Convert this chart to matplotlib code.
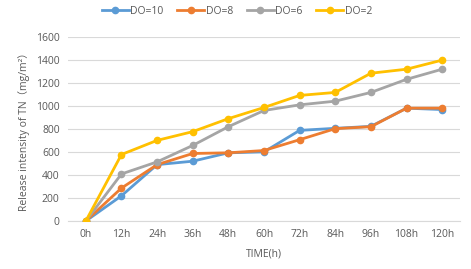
import matplotlib
matplotlib.use("Agg")
import matplotlib.pyplot as plt

categories = ["0h", "12h", "24h", "36h", "48h", "60h", "72h", "84h", "96h", "108h", "120h"]
do10 = [0, 219, 490, 520, 593, 601, 788, 806, 823, 981, 969]
do8 = [0, 286, 490, 587, 593, 613, 707, 803, 820, 981, 981]
do6 = [0, 409, 514, 657, 820, 961, 1010, 1042, 1118, 1232, 1320]
do2 = [0, 578, 701, 777, 890, 987, 1092, 1118, 1285, 1320, 1399]
series_names = ["DO=10", "DO=8", "DO=6", "DO=2"]
yticks = [0, 200, 400, 600, 800, 1000, 1200, 1400, 1600]

colors = ["#5B9BD5", "#ED7D31", "#A5A5A5", "#FFC000"]
txt = "#595959"
plt.rcParams['font.family'] = ['Open Sans', 'DejaVu Sans']

fig = plt.figure(figsize=(4.71, 2.69), dpi=100)
ax = fig.add_axes([68/471, 48/269, 392/471, 184/269])
x = list(range(len(categories)))
for vals, name, c in zip([do10, do8, do6, do2], series_names, colors):
    ax.plot(x, vals, color=c, lw=2.0, marker='o', ms=4.5, label=name,
            solid_joinstyle='round', zorder=3)

ax.set_xlim(-0.5, len(categories) - 0.5)
ax.set_ylim(0, 1600)
ax.set_yticks(yticks)
ax.set_xticks(x)
ax.set_xticklabels(categories)
ax.grid(axis='y', color='#D9D9D9', lw=0.8, zorder=0)
ax.set_axisbelow(True)
for s in ['top', 'right', 'left']:
    ax.spines[s].set_visible(False)
ax.spines['bottom'].set_color('#D9D9D9')
ax.spines['bottom'].set_linewidth(0.8)
ax.tick_params(length=0, labelsize=7.5, colors=txt, pad=6)
ax.set_xlabel("TIME(h)", fontsize=7.5, color=txt, labelpad=6)
ax.set_ylabel("Release intensity of TN（mg/m²）", fontsize=7.5, color=txt,
              family=['Open Sans', 'Noto Sans CJK SC', 'DejaVu Sans'], labelpad=4)
leg = fig.legend(loc='center', bbox_to_anchor=(237/471, 1 - 11/269), ncol=4,
                 frameon=False, fontsize=7.5, handlelength=2.6, columnspacing=1.3,
                 handletextpad=0.15)
for t in leg.get_texts():
    t.set_color(txt)
fig.savefig("out.png", dpi=100)
